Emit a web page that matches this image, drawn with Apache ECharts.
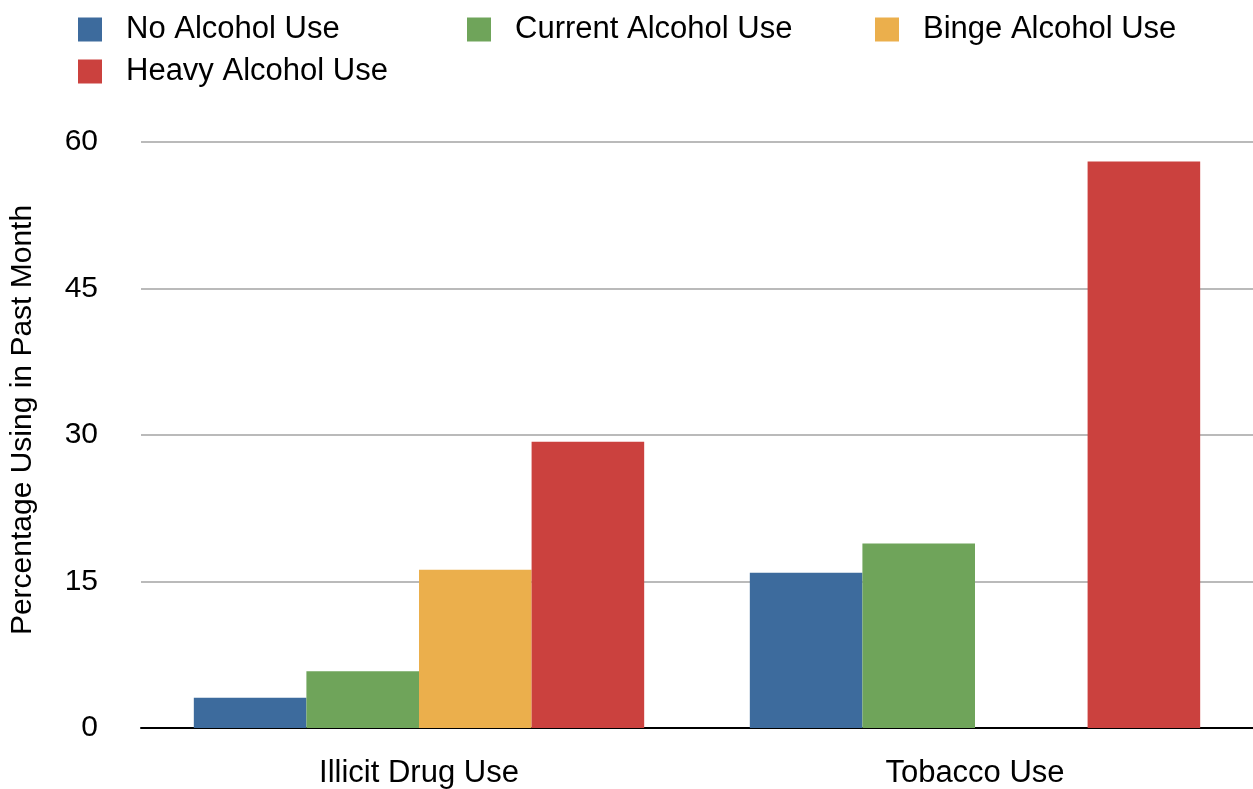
<!DOCTYPE html>
<html>
<head>
<meta charset="utf-8">
<script src="https://cdn.jsdelivr.net/npm/echarts@6/dist/echarts.min.js"></script>
<style>
    html, body { margin: 0; padding: 0; background: #ffffff; }
    #chart { width: 1253px; height: 789px; }
</style>
</head>
<body>
<div id="chart"></div>
<script>
// DATA
const categories = ['Illicit Drug Use', 'Tobacco Use'];
const noAlcohol = [3.1, 15.9];
const currentAlcohol = [5.8, 18.9];
const bingeAlcohol = [16.2, null];
const heavyAlcohol = [29.3, 58.0];
const yTicks = { min: 0, max: 60, interval: 15 };

const seriesNames = ['No Alcohol Use', 'Current Alcohol Use', 'Binge Alcohol Use', 'Heavy Alcohol Use'];
const seriesData = [noAlcohol, currentAlcohol, bingeAlcohol, heavyAlcohol];
const colors = ['#3d6b9d', '#6fa45a', '#ebaf4c', '#cb413e'];

const chartPlaceholder = document.querySelector('#chart');
const chart = echarts.init(chartPlaceholder);

const fontFamily = '"Liberation Sans", Arial, Helvetica, sans-serif';

// one legend per item so the columns sit where the reference has them
const legendSlots = [
    { left: 78, top: 14 },
    { left: 467, top: 14 },
    { left: 875, top: 14 },
    { left: 78, top: 56 }
];

const legends = seriesNames.map((name, i) => ({
    data: [name],
    left: legendSlots[i].left,
    top: legendSlots[i].top,
    padding: 0,
    orient: 'horizontal',
    itemWidth: 24,
    itemHeight: 24,
    icon: 'rect',
    selectedMode: false,
    textStyle: {
        fontFamily: fontFamily,
        fontSize: 31,
        color: '#000',
        lineHeight: 24,
        padding: [0, 0, 0, 19]
    }
}));

const option = {
    animation: false,
    color: colors,
    legend: legends,
    grid: {
        left: 140,
        right: 0,
        top: 142,
        bottom: 60
    },
    xAxis: {
        type: 'category',
        data: categories,
        axisLine: {
            lineStyle: { color: '#000', width: 2 }
        },
        axisTick: { show: false },
        axisLabel: {
            fontFamily: fontFamily,
            fontSize: 31,
            color: '#000',
            margin: 30
        }
    },
    yAxis: {
        type: 'value',
        min: yTicks.min,
        max: yTicks.max,
        interval: yTicks.interval,
        name: 'Percentage Using in Past Month',
        nameLocation: 'middle',
        nameGap: 103,
        nameRotate: 90,
        nameTextStyle: {
            fontFamily: fontFamily,
            fontSize: 30,
            color: '#000',
            padding: [0, 0, 0, 30]
        },
        axisLine: { show: false },
        axisTick: { show: false },
        axisLabel: {
            fontFamily: fontFamily,
            fontSize: 30,
            color: '#000',
            margin: 43
        },
        splitLine: {
            lineStyle: { color: '#bababa', width: 2 }
        }
    },
    series: seriesNames.map((name, i) => ({
        name: name,
        type: 'bar',
        data: seriesData[i],
        barGap: '0%',
        barCategoryGap: '19%',
        itemStyle: { color: colors[i] }
    }))
};

chart.setOption(option);
</script>
</body>
</html>
